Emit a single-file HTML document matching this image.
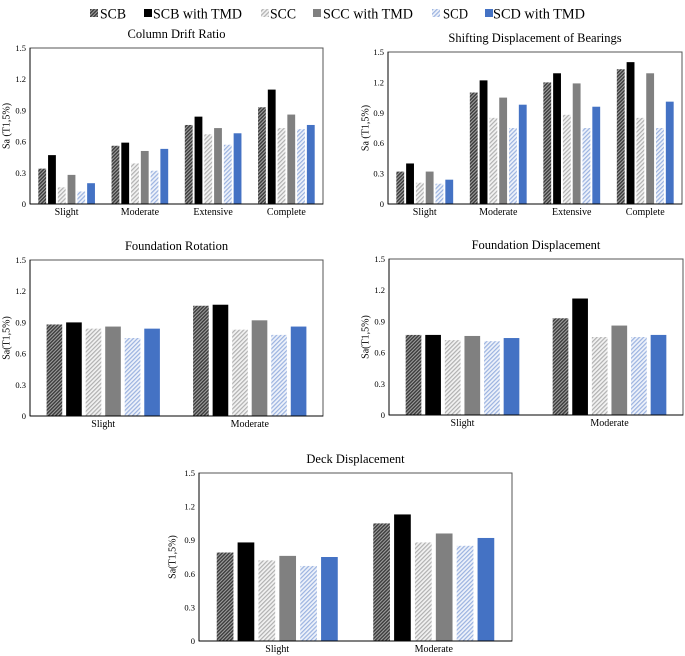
<!DOCTYPE html>
<html><head><meta charset="utf-8">
<style>
html,body{margin:0;padding:0;background:#fff;}
svg{display:block;font-family:"Liberation Serif",serif;}
</style></head>
<body>
<svg id="fig" width="685" height="656" viewBox="0 0 685 656" xmlns="http://www.w3.org/2000/svg">
<defs>
<pattern id="pSCB" width="2.5" height="2.5" patternUnits="userSpaceOnUse" patternTransform="rotate(45)">
<rect width="2.5" height="2.5" fill="#a0a0a0"/><rect width="1.4" height="2.5" fill="#3a3a3a"/></pattern>
<pattern id="pSCC" width="3" height="3" patternUnits="userSpaceOnUse" patternTransform="rotate(45)">
<rect width="3" height="3" fill="#f2f2f2"/><rect width="1.2" height="3" fill="#b0b0b0"/></pattern>
<pattern id="pSCD" width="3" height="3" patternUnits="userSpaceOnUse" patternTransform="rotate(45)">
<rect width="3" height="3" fill="#eef2fa"/><rect width="1.2" height="3" fill="#9ab2e0"/></pattern>
</defs>
<g id="legend"></g>
<g id="charts"></g>
</svg>
<script>
const seriesNames=["SCB","SCB with TMD","SCC","SCC with TMD","SCD","SCD with TMD"];
const fills=["url(#pSCB)","#000000","url(#pSCC)","#808080","url(#pSCD)","#4472c4"];
const yTicks=[0,0.3,0.6,0.9,1.2,1.5];
const yTickLabels=["0","0.3","0.6","0.9","1.2","1.5"];
const cats4=["Slight","Moderate","Extensive","Complete"];
const cats2=["Slight","Moderate"];
const cdrValues=[[0.34,0.47,0.16,0.28,0.12,0.20],[0.56,0.59,0.39,0.51,0.32,0.53],[0.76,0.84,0.67,0.73,0.57,0.68],[0.93,1.10,0.73,0.86,0.72,0.76]];
const sdbValues=[[0.32,0.40,0.21,0.32,0.20,0.24],[1.10,1.22,0.85,1.05,0.75,0.98],[1.20,1.29,0.88,1.19,0.75,0.96],[1.33,1.40,0.85,1.29,0.75,1.01]];
const frValues=[[0.88,0.90,0.84,0.86,0.75,0.84],[1.06,1.07,0.83,0.92,0.78,0.86]];
const fdValues=[[0.77,0.77,0.72,0.76,0.71,0.74],[0.93,1.12,0.75,0.86,0.75,0.77]];
const ddValues=[[0.79,0.88,0.72,0.76,0.67,0.75],[1.05,1.13,0.88,0.96,0.85,0.92]];

const NS="http://www.w3.org/2000/svg";
function mk(tag,attrs,parent){const e=document.createElementNS(NS,tag);for(const k in attrs)e.setAttribute(k,attrs[k]);parent.appendChild(e);return e;}

// legend
const lg=document.getElementById('legend');
const legX=[90,144,261,313,432,485];
const legTX=[100,153,270,323,443,493];
const legW=[26,89,26,90,25,92];
seriesNames.forEach((n,i)=>{
  const g=mk('g',{},lg);
  
  
  mk('rect',{x:legX[i],y:9,width:8,height:8,fill:fills[i]},g);
  const t=mk('text',{x:legTX[i],y:18.5,'font-size':15,fill:'#000',textLength:legW[i],lengthAdjust:'spacingAndGlyphs'},g);
  t.textContent=n;
});

const charts=[
 {name:'column-drift-ratio',title:'Column Drift Ratio',yt:'Sa (T1,5%)',L:30,R:323,T:48,B:204,cats:cats4,vals:cdrValues,ytx:7},
 {name:'shifting-displacement',title:'Shifting Displacement of Bearings',yt:'Sa (T1,5%)',L:388,R:682,T:52,B:204,cats:cats4,vals:sdbValues,ytx:366},
 {name:'foundation-rotation',title:'Foundation Rotation',yt:'Sa(T1,5%)',L:30,R:323,T:260,B:416,cats:cats2,vals:frValues,ytx:7},
 {name:'foundation-displacement',title:'Foundation Displacement',yt:'Sa(T1,5%)',L:389,R:683,T:259,B:415,cats:cats2,vals:fdValues,ytx:366},
 {name:'deck-displacement',title:'Deck Displacement',yt:'Sa(T1,5%)',L:199,R:512,T:473,B:641,cats:cats2,vals:ddValues,ytx:173}
];
const root=document.getElementById('charts');
charts.forEach(c=>{
  const g=mk('g',{},root);
  
  
  const y=v=>c.B-(v/1.5)*(c.B-c.T);
  const cw=(c.R-c.L)/c.cats.length;
  const pitch=cw*0.8/6, bw=pitch*0.8;
  const tt=mk('text',{x:(c.L+c.R)/2,y:c.T-10,'text-anchor':'middle','font-size':12.5},g);
  
  
  tt.textContent=c.title;
  const fr=mk('rect',{x:c.L,y:c.T,width:c.R-c.L,height:c.B-c.T,fill:'none',stroke:'#555','stroke-width':1},g);
  
  
  yTicks.forEach((v,i)=>{
    const t=mk('text',{x:c.L-4,y:y(v)+3,'text-anchor':'end','font-size':8.5},g);
    
    
    t.textContent=yTickLabels[i];
  });
  const cy=(c.T+c.B)/2;
  const yl=mk('text',{x:c.ytx,y:cy,'text-anchor':'middle','dominant-baseline':'middle','font-size':10,transform:`rotate(-90 ${c.ytx} ${cy})`},g);
  
  
  yl.textContent=c.yt;
  c.cats.forEach((cat,ci)=>{
    const cx=c.L+cw*(ci+0.5);
    c.vals[ci].forEach((v,si)=>{
      const x=cx-3*pitch+si*pitch+(pitch-bw)/2;
      const b=mk('rect',{x:x,y:y(v),width:bw,height:c.B-y(v),fill:fills[si]},g);
      
      
    });
    const t=mk('text',{x:cx,y:c.B+11,'text-anchor':'middle','font-size':10},g);
    
    
    t.textContent=cat;
  });
  mk('line',{x1:c.L,x2:c.L,y1:c.T,y2:c.B,stroke:'#000'},g);
  mk('line',{x1:c.L,x2:c.R,y1:c.B,y2:c.B,stroke:'#000'},g);
});
</script>
</body></html>
